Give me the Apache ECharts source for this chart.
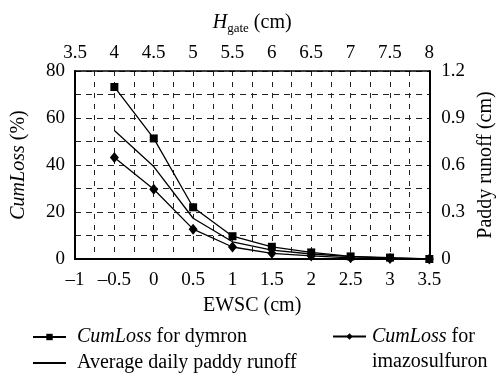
<!DOCTYPE html>
<html>
<head>
<meta charset="utf-8">
<script src="https://cdn.jsdelivr.net/npm/echarts@6/dist/echarts.min.js"></script>
<style>
html,body{margin:0;padding:0;background:#fff;}
#c{width:504px;height:381px;}
</style>
</head>
<body>
<div id="c"></div>
<script>
var ewsc = [-0.5, 0, 0.5, 1, 1.5, 2, 2.5, 3, 3.5];
var dymron = [73.2, 51.3, 22.0, 9.7, 5.2, 2.8, 1.1, 0.6, 0];
var imazosulfuron = [43.2, 29.7, 12.7, 5.1, 2.4, 1.3, 0.5, 0.2, 0];
var runoff = [0.82, 0.59, 0.26, 0.11, 0.057, 0.032, 0.015, 0.006, 0];

function pairs(xs, ys) { return xs.map(function (x, i) { return [x, ys[i]]; }); }

var FONT = 'Liberation Serif';
var chart = echarts.init(document.getElementById('c'), null, {renderer: 'canvas'});
var dashV = {type: [5, 6], color: '#222', width: 1};
var dashH = {type: [6, 5], color: '#222', width: 1};
var tick = {fontFamily: FONT, fontSize: 19, color: '#000'};

chart.setOption({
  animation: false,
  backgroundColor: '#fff',
  textStyle: {fontFamily: FONT},
  grid: {left: 75, right: 68, top: 71, bottom: 122, containLabel: false},
  xAxis: [{
    type: 'value', min: -1, max: 3.5, interval: 0.5, position: 'bottom',
    axisLine: {show: true, onZero: false, lineStyle: {color: '#000', width: 2}},
    axisTick: {show: false},
    minorTick: {show: false, splitNumber: 2},
    splitLine: {show: true, lineStyle: dashV},
    minorSplitLine: {show: true, lineStyle: dashV},
    axisLabel: Object.assign({margin: 12, showMinLabel: true, showMaxLabel: true,
      formatter: function (v) { return String(v).replace('-', '\u2013'); }}, tick),
    name: 'EWSC (cm)', nameLocation: 'middle', nameGap: 37,
    nameTextStyle: {fontFamily: FONT, fontSize: 20, color: '#000'}
  }, {
    type: 'value', min: 3.5, max: 8, interval: 0.5, position: 'top',
    axisLine: {show: true, onZero: false, lineStyle: {color: '#000', width: 1.5}},
    axisTick: {show: false},
    splitLine: {show: false},
    axisLabel: Object.assign({margin: 8, showMinLabel: true, showMaxLabel: true}, tick),
    name: '{h|H}{s|gate}{n| (cm)}', nameLocation: 'middle', nameGap: 38,
    nameTextStyle: {
      fontFamily: FONT, fontSize: 20, color: '#000',
      rich: {
        h: {fontFamily: FONT, fontSize: 20, fontStyle: 'italic', lineHeight: 20, verticalAlign: 'top', color: '#000'},
        s: {fontFamily: FONT, fontSize: 13, lineHeight: 13, padding: [9, 0, 0, 0], verticalAlign: 'top', color: '#000'},
        n: {fontFamily: FONT, fontSize: 20, lineHeight: 20, verticalAlign: 'top', color: '#000'}
      }
    }
  }],
  yAxis: [{
    type: 'value', min: 0, max: 80, interval: 20, position: 'left',
    axisLine: {show: true, onZero: false, lineStyle: {color: '#000', width: 2}},
    axisTick: {show: false},
    minorTick: {show: false, splitNumber: 2},
    splitLine: {show: true, lineStyle: dashH},
    minorSplitLine: {show: true, lineStyle: dashH},
    axisLabel: Object.assign({margin: 10}, tick),
    name: '{i|CumLoss} (%)', nameLocation: 'middle', nameGap: 46,
    nameTextStyle: {fontFamily: FONT, fontSize: 20, color: '#000',
      rich: {i: {fontFamily: FONT, fontSize: 20, fontStyle: 'italic', color: '#000'}}}
  }, {
    type: 'value', min: 0, max: 1.2, interval: 0.3, position: 'right',
    axisLine: {show: true, onZero: false, lineStyle: {color: '#000', width: 2}},
    axisTick: {show: false},
    splitLine: {show: false},
    axisLabel: Object.assign({margin: 12, formatter: function (v) { return v === 0 ? '0' : v.toFixed(1); }}, tick),
    name: 'Paddy runoff (cm)', nameLocation: 'middle', nameGap: 44,
    nameTextStyle: {fontFamily: FONT, fontSize: 20, color: '#000'}
  }],
  legend: [{
    orient: 'vertical', left: 32, top: 327, padding: 0, itemGap: 6,
    itemWidth: 33, itemHeight: 8,
    data: ['dymron', {name: 'runoff', itemStyle: {color: 'rgba(0,0,0,0)', opacity: 0}}],
    formatter: function (n) {
      return n === 'dymron' ? '{i|CumLoss} for dymron' : 'Average daily paddy runoff';
    },
    textStyle: {fontFamily: FONT, fontSize: 20, color: '#000', lineHeight: 20, padding: [0, 0, 0, 6],
      rich: {i: {fontFamily: FONT, fontSize: 20, fontStyle: 'italic', color: '#000'}}}
  }, {
    orient: 'vertical', left: 332, top: 299, padding: 0,
    itemWidth: 33, itemHeight: 8,
    data: ['imazosulfuron'],
    formatter: function () { return '{i|CumLoss} for\nimazosulfuron'; },
    textStyle: {fontFamily: FONT, fontSize: 20, color: '#000', lineHeight: 25, padding: [25, 0, 0, 1],
      rich: {i: {fontFamily: FONT, fontSize: 20, fontStyle: 'italic', color: '#000', lineHeight: 25}}}
  }],
  series: [{
    name: 'dymron', type: 'line', xAxisIndex: 0, yAxisIndex: 0,
    data: pairs(ewsc, dymron),
    symbol: 'rect', symbolSize: 8,
    lineStyle: {color: '#000', width: 1.3}, itemStyle: {color: '#000'}, z: 5
  }, {
    name: 'runoff', type: 'line', xAxisIndex: 0, yAxisIndex: 1,
    data: pairs(ewsc, runoff),
    symbol: 'none', showSymbol: false,
    lineStyle: {color: '#000', width: 1.3}, itemStyle: {color: '#000'}, z: 4
  }, {
    name: 'imazosulfuron', type: 'line', xAxisIndex: 0, yAxisIndex: 0,
    data: pairs(ewsc, imazosulfuron),
    symbol: 'diamond', symbolSize: [9, 11],
    lineStyle: {color: '#000', width: 1.3}, itemStyle: {color: '#000'}, z: 5
  }]
});
</script>
</body>
</html>
